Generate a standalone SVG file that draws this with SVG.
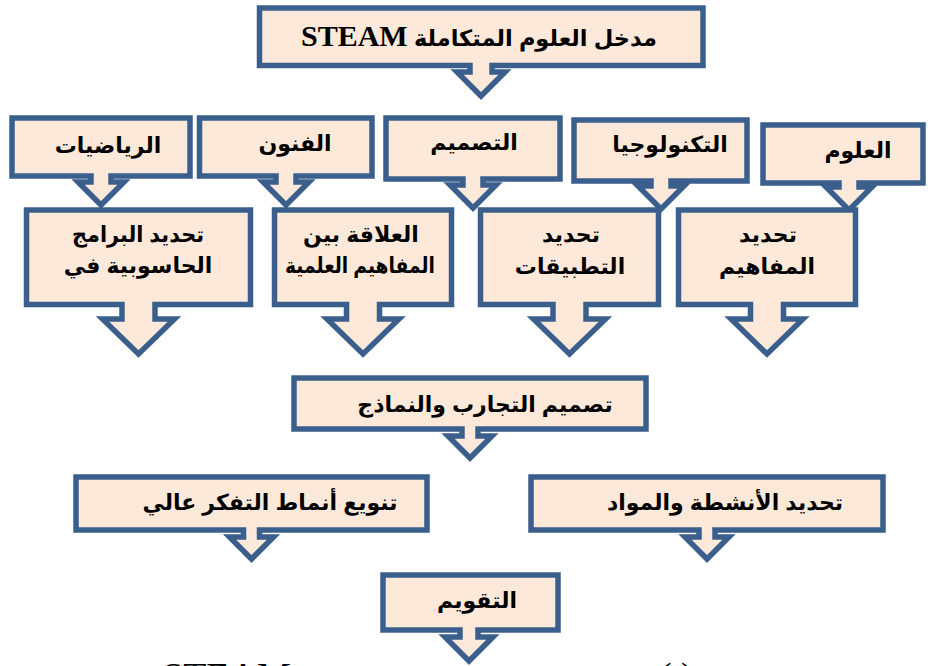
<svg xmlns="http://www.w3.org/2000/svg" width="933" height="666" viewBox="0 0 933 666">
<style>
.c{fill:#FDE9D9;stroke:#3A5F8C;stroke-width:5.5;stroke-linejoin:miter;stroke-miterlimit:10}
.t{font-family:"Liberation Sans","DejaVu Sans",sans-serif;font-weight:bold;font-size:22px;fill:#000;text-anchor:middle}
.s{font-family:"Liberation Serif","DejaVu Serif",serif;font-weight:bold}
.cap{font-family:"Liberation Serif","DejaVu Serif",serif;font-size:38px;fill:#000}
</style>
<rect width="933" height="666" fill="#fff"/>
<g id="connectors"></g>
<g id="n-steam">
<path class="c" d="M259.5,8 H703 V65.5 H492 V72 H505 L481,96 L457,72 H470 V65.5 H259.5 Z"/>
<text class="t" x="479" y="46" direction="rtl" style="font-size:22.5px">مدخل العلوم المتكاملة <tspan class="s" style="font-size:30px">STEAM</tspan></text>
</g>
<g id="n-math">
<path class="c" d="M12,118 H190 V176 H111 V182 H124 L101,205 L78,182 H91 V176 H12 Z"/>
<text class="t" x="108" y="153">الرياضيات</text>
</g>
<g id="n-arts">
<path class="c" d="M199.5,118 H372 V176 H296 V182 H309 L286,205 L263,182 H276 V176 H199.5 Z"/>
<text class="t" x="295" y="151">الفنون</text>
</g>
<g id="n-design">
<path class="c" d="M386,118 H560 V179 H483 V185 H496 L473,208 L450,185 H463 V179 H386 Z"/>
<text class="t" x="474" y="150">التصميم</text>
</g>
<g id="n-tech">
<path class="c" d="M574,120 H747 V181 H671 V186 H684 L661,209 L638,186 H651 V181 H574 Z"/>
<text class="t" x="670" y="152">التكنولوجيا</text>
</g>
<g id="n-science">
<path class="c" d="M763,125 H923 V183 H859 V187 H872 L849,210 L826,187 H839 V183 H763 Z"/>
<text class="t" x="858" y="158">العلوم</text>
</g>
<g id="n-programs">
<path class="c" d="M26.5,210 H250.5 V304.5 H155 V319 H174.5 L138.5,354 L102.5,319 H122 V304.5 H26.5 Z"/>
<text class="t" x="138" y="242" textLength="132" lengthAdjust="spacingAndGlyphs">تحديد البرامج</text>
<text class="t" x="138" y="273">الحاسوبية في</text>
</g>
<g id="n-relation">
<path class="c" d="M274.5,210 H451.5 V304.5 H379.5 V319 H399 L363,354 L327,319 H346.5 V304.5 H274.5 Z"/>
<text class="t" x="361" y="242">العلاقة بين</text>
<text class="t" x="360" y="273" textLength="150" lengthAdjust="spacingAndGlyphs">المفاهيم العلمية</text>
</g>
<g id="n-apps">
<path class="c" d="M480.5,210 H658.5 V304.5 H586 V319 H605.5 L569.5,354 L533.5,319 H553 V304.5 H480.5 Z"/>
<text class="t" x="571" y="242">تحديد</text>
<text class="t" x="570" y="274">التطبيقات</text>
</g>
<g id="n-concepts">
<path class="c" d="M678.5,210 H855.5 V304.5 H783.5 V319 H803 L767,354 L731,319 H750.5 V304.5 H678.5 Z"/>
<text class="t" x="768" y="242">تحديد</text>
<text class="t" x="767" y="274">المفاهيم</text>
</g>
<g id="n-experiments">
<path class="c" d="M294,378 H646 V429 H478 V436 H492 L470,458 L448,436 H462 V429 H294 Z"/>
<text class="t" x="485" y="412">تصميم التجارب والنماذج</text>
</g>
<g id="n-thinking">
<path class="c" d="M76,477 H427 V530 H259.5 V537 H273.5 L251.5,559 L229.5,537 H243.5 V530 H76 Z"/>
<text class="t" x="270" y="510">تنويع أنماط التفكر عالي</text>
</g>
<g id="n-activities">
<path class="c" d="M531,477 H883 V530 H715 V537 H729 L707,559 L685,537 H699 V530 H531 Z"/>
<text class="t" x="725" y="510">تحديد الأنشطة والمواد</text>
</g>
<g id="n-evaluation">
<path class="c" d="M383,575 H558 V630 H478 V637 H493 L469,661 L445,637 H460 V630 H383 Z"/>
<text class="t" x="477" y="608">التقويم</text>
</g>
<text class="cap" x="162" y="689">STEAM</text>
<text class="cap" x="659" y="689">(</text>
<text class="cap" x="681" y="689">)</text>
</svg>
